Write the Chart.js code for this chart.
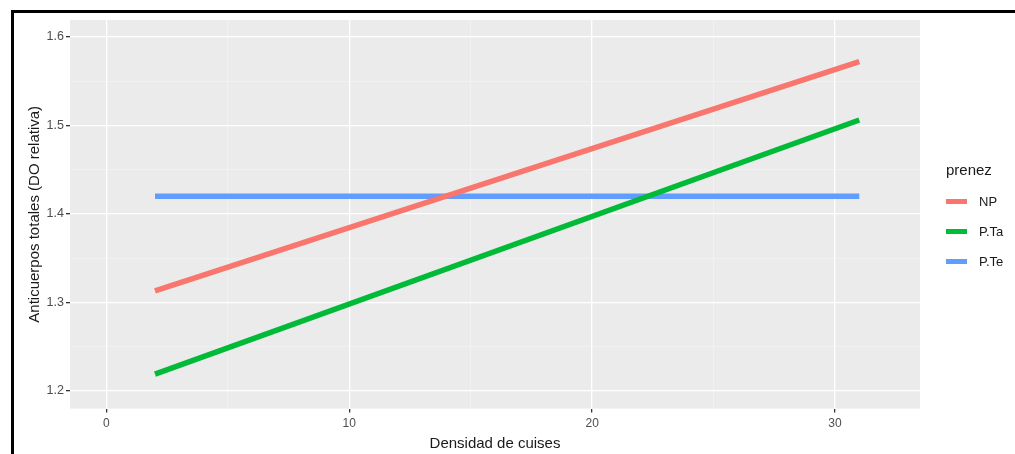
<!DOCTYPE html>
<html>
<head>
<meta charset="utf-8">
<script src="https://cdn.jsdelivr.net/npm/chart.js@4.4.1/dist/chart.umd.min.js"></script>
<style>
    body { margin: 0; background: #fff; width: 1015px; height: 454px; overflow: hidden; position: relative; font-family: "Liberation Sans", Arial, sans-serif; }
    #frame { position: absolute; left: 11px; top: 10px; width: 1100px; height: 600px; border-top: 3px solid #000; border-left: 3px solid #000; }
    #wrap { position: absolute; left: 0; top: 0; width: 1015px; height: 454px; }
    #legend { position: absolute; left: 946px; top: 161px; color: #1a1a1a; }
    #legend .title { font-size: 15px; margin-bottom: 8px; }
    #legend .item { display: flex; align-items: center; height: 30px; font-size: 13px; }
    #legend .swatch { width: 21px; height: 5px; margin-right: 12px; }
</style>
</head>
<body>
<div id="frame"></div>
<div id="wrap"><canvas id="chart" width="1015" height="454"></canvas></div>
<div id="legend"></div>

<script>
// =============================================
// DATA
// =============================================
const densidad = [2, 31];
const seriesNames = ['NP', 'P.Ta', 'P.Te'];
const npValues = [1.313, 1.572];
const ptaValues = [1.219, 1.506];
const pteValues = [1.420, 1.420];
const seriesColors = ['#F8766D', '#00BA38', '#619CFF'];
const xTicks = [0, 10, 20, 30];
const yTicks = [1.2, 1.3, 1.4, 1.5, 1.6];

const seriesValues = [npValues, ptaValues, pteValues];

// panel background like ggplot
const panelBackground = {
    id: 'panelBackground',
    beforeDraw(chart) {
        const { ctx, chartArea } = chart;
        ctx.save();
        ctx.fillStyle = '#EBEBEB';
        ctx.fillRect(chartArea.left, chartArea.top, chartArea.right - chartArea.left, chartArea.bottom - chartArea.top);
        ctx.restore();
    }
};

const isMajor = (value, list) => list.some(t => Math.abs(t - value) < 1e-6);

const ctx = document.getElementById('chart').getContext('2d');
const chart = new Chart(ctx, {
    type: 'line',
    data: {
        datasets: seriesNames.map((name, i) => ({
            label: name,
            data: densidad.map((x, j) => ({ x: x, y: seriesValues[i][j] })),
            borderColor: seriesColors[i],
            backgroundColor: seriesColors[i],
            borderWidth: 5.5,
            pointRadius: 0,
            fill: false,
            tension: 0
        }))
    },
    options: {
        responsive: false,
        animation: false,
        layout: { padding: { left: 14, top: 20, right: 95, bottom: 1 } },
        plugins: { legend: { display: false }, tooltip: { enabled: false } },
        scales: {
            x: {
                type: 'linear',
                min: -1.5,
                max: 33.5,
                afterBuildTicks(scale) {
                    scale.ticks = [0, 5, 10, 15, 20, 25, 30].map(v => ({ value: v }));
                },
                grid: {
                    color: c => isMajor(c.tick.value, xTicks) ? '#FFFFFF' : '#F5F5F5',
                    lineWidth: c => isMajor(c.tick.value, xTicks) ? 1.3 : 0.6,
                    tickColor: c => isMajor(c.tick.value, xTicks) ? '#333333' : 'rgba(0,0,0,0)',
                    tickLength: 4,
                    drawTicks: true
                },
                border: { display: false },
                ticks: {
                    color: '#4D4D4D',
                    font: { size: 12, family: 'Liberation Sans' },
                    padding: 4,
                    maxRotation: 0,
                    callback: v => isMajor(v, xTicks) ? v : ''
                },
                title: {
                    display: true,
                    text: 'Densidad de cuises',
                    color: '#1A1A1A',
                    font: { size: 15, family: 'Liberation Sans' },
                    padding: { top: 0, bottom: 0 }
                }
            },
            y: {
                type: 'linear',
                min: 1.18,
                max: 1.619,
                afterBuildTicks(scale) {
                    scale.ticks = [1.2, 1.25, 1.3, 1.35, 1.4, 1.45, 1.5, 1.55, 1.6].map(v => ({ value: v }));
                },
                afterFit(scale) { scale.width = 56; },
                grid: {
                    color: c => isMajor(c.tick.value, yTicks) ? '#FFFFFF' : '#F5F5F5',
                    lineWidth: c => isMajor(c.tick.value, yTicks) ? 1.3 : 0.6,
                    tickColor: c => isMajor(c.tick.value, yTicks) ? '#333333' : 'rgba(0,0,0,0)',
                    tickLength: 4,
                    drawTicks: true
                },
                border: { display: false },
                ticks: {
                    color: '#4D4D4D',
                    font: { size: 12.5, family: 'Liberation Sans' },
                    padding: 2,
                    callback: v => isMajor(v, yTicks) ? v.toFixed(1) : ''
                },
                title: {
                    display: true,
                    text: 'Anticuerpos totales (DO relativa)',
                    color: '#1A1A1A',
                    font: { size: 15, family: 'Liberation Sans' },
                    padding: { top: 12, bottom: 0 }
                }
            }
        }
    },
    plugins: [panelBackground]
});

// Legend
const legend = document.getElementById('legend');
legend.innerHTML = '<div class="title">prenez</div>' + seriesNames.map((name, i) => `
    <div class="item"><span class="swatch" style="background:${seriesColors[i]}"></span>${name}</div>
`).join('');
</script>
</body>
</html>
